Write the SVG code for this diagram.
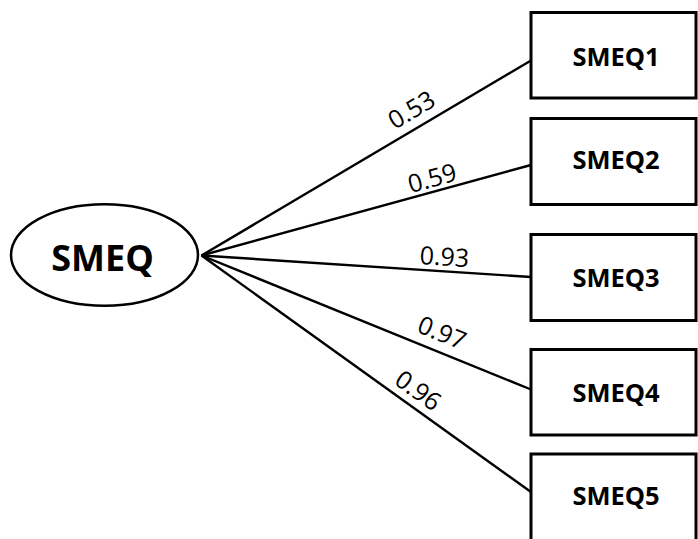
<svg xmlns="http://www.w3.org/2000/svg" width="698" height="539" viewBox="0 0 698 539">
<style>
.box{fill:#fff;stroke:#000;stroke-width:3}
.ell{fill:#fff;stroke:#000;stroke-width:2.5}
.lbl{font-family:"Open Sans","DejaVu Sans",sans-serif;font-weight:bold;font-size:25.5px;fill:#000;text-anchor:middle}
.big{font-size:36px}
.edge{stroke:#000;stroke-width:2.4;fill:none}
.w{font-family:"Open Sans","DejaVu Sans",sans-serif;font-size:25px;fill:#000;text-anchor:middle}
</style>
<rect width="698" height="539" fill="#fff"/>
<g id="connectors">
<line class="edge" x1="201.5" y1="255.5" x2="531" y2="60.5"/>
<line class="edge" x1="201.5" y1="255.5" x2="531" y2="165"/>
<line class="edge" x1="201.5" y1="255.5" x2="531" y2="277"/>
<line class="edge" x1="201.5" y1="255.5" x2="531" y2="389.5"/>
<line class="edge" x1="201.5" y1="255.5" x2="531" y2="492"/>
<text class="w" transform="translate(420.6,125.1) rotate(-30.8)" y="-9">0.53</text>
<text class="w" transform="translate(435.6,190.5) rotate(-15.6)" y="-4">0.59</text>
<text class="w" transform="translate(443.5,271.5) rotate(3.65)" y="-6">0.93</text>
<text class="w" transform="translate(434.6,351.1) rotate(22.2)" y="-11">0.97</text>
<text class="w" transform="translate(408.1,404.5) rotate(35.6)" y="-8.5">0.96</text>
</g>
<g id="SMEQ">
<ellipse class="ell" cx="104.5" cy="255" rx="93.5" ry="50.7"/>
<text class="lbl big" x="102.5" y="270.5">SMEQ</text>
</g>
<g id="SMEQ1">
<rect class="box" x="531" y="12.5" width="165" height="85.5"/>
<text class="lbl" x="616" y="65.7">SMEQ1</text>
</g>
<g id="SMEQ2">
<rect class="box" x="531" y="118.5" width="165" height="86"/>
<text class="lbl" x="616" y="169">SMEQ2</text>
</g>
<g id="SMEQ3">
<rect class="box" x="531" y="234.5" width="165" height="86"/>
<text class="lbl" x="616" y="287.3">SMEQ3</text>
</g>
<g id="SMEQ4">
<rect class="box" x="531" y="349.5" width="165" height="85.5"/>
<text class="lbl" x="616" y="402.3">SMEQ4</text>
</g>
<g id="SMEQ5">
<rect class="box" x="531" y="454" width="165" height="90"/>
<text class="lbl" x="616" y="505">SMEQ5</text>
</g>
</svg>
